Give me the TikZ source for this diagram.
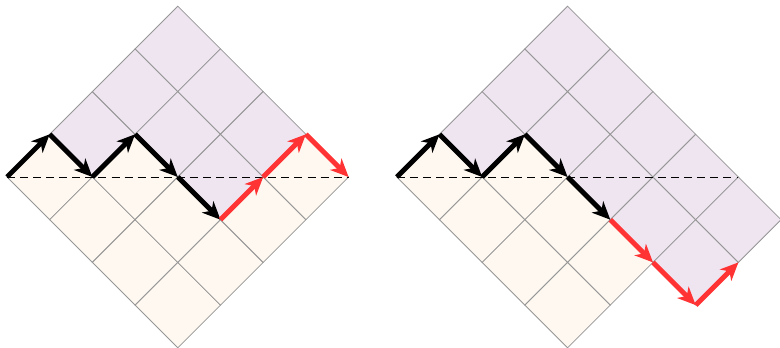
\documentclass[tikz,border=0pt]{standalone}
\usetikzlibrary{arrows.meta}
\definecolor{lilac}{RGB}{239,229,241}
\definecolor{cream}{RGB}{254,248,240}
\definecolor{gridc}{RGB}{150,150,150}
\definecolor{redp}{RGB}{255,51,51}
\begin{document}
\begin{tikzpicture}[x=0.75pt,y=0.75pt,
  cellbox/.style={draw=gridc, line width=0.6pt},
  stepar/.style={line width=3.7pt, -{Stealth[length=13.5pt,width=12pt,inset=4pt]}},
  blk/.style={stepar, draw=black},
  rd/.style={stepar, draw=redp},
  axisline/.style={black, line width=0.6pt, dash pattern=on 6pt off 3.8pt},
  latt/.style={x={(32.025pt,32.025pt)}, y={(32.025pt,-32.025pt)}}]
\useasboundingbox (0,0) rectangle (780,348);

% ---------- left diagram ----------
\begin{scope}[shift={(5.25pt,128.25pt)}, latt]
  \foreach \a/\b in {0/0,0/1,1/1,0/2,1/2,0/3,1/3,2/3,3/3}
    \filldraw[cellbox, fill=cream] (\a,\b) -- (\a+1,\b) -- (\a+1,\b+1) -- (\a,\b+1) -- cycle;
  \foreach \a/\b in {1/0,2/0,3/0,2/1,3/1,2/2,3/2}
    \filldraw[cellbox, fill=lilac] (\a,\b) -- (\a+1,\b) -- (\a+1,\b+1) -- (\a,\b+1) -- cycle;
  \coordinate (L0) at (0,0);
  \coordinate (L1) at (1,0);
  \coordinate (L2) at (1,1);
  \coordinate (L3) at (2,1);
  \coordinate (L4) at (2,2);
  \coordinate (L5) at (2,3);
  \coordinate (L6) at (3,3);
  \coordinate (L7) at (4,3);
  \coordinate (L8) at (4,4);
  \draw[axisline] (L0) -- (L8);
  \draw[blk] (L0) -- (L1);
  \draw[blk] (L1) -- (L2);
  \draw[blk] (L2) -- (L3);
  \draw[blk] (L3) -- (L4);
  \draw[blk] (L4) -- (L5);
  \draw[rd] (L5) -- (L6);
  \draw[rd] (L6) -- (L7);
  \draw[rd] (L7) -- (L8);
\end{scope}

% ---------- right diagram ----------
\begin{scope}[shift={(297.6pt,128.25pt)}, latt]
  \foreach \a/\b in {0/0,0/1,1/1,0/2,1/2,0/3,1/3}
    \filldraw[cellbox, fill=cream] (\a,\b) -- (\a+1,\b) -- (\a+1,\b+1) -- (\a,\b+1) -- cycle;
  \foreach \a/\b in {1/0,2/0,3/0,2/1,3/1,2/2,3/2,2/3,3/3,2/4,3/4}
    \filldraw[cellbox, fill=lilac] (\a,\b) -- (\a+1,\b) -- (\a+1,\b+1) -- (\a,\b+1) -- cycle;
  \coordinate (R0) at (0,0);
  \coordinate (R1) at (1,0);
  \coordinate (R2) at (1,1);
  \coordinate (R3) at (2,1);
  \coordinate (R4) at (2,2);
  \coordinate (R5) at (2,3);
  \coordinate (R6) at (2,4);
  \coordinate (R7) at (2,5);
  \coordinate (R8) at (3,5);
  \coordinate (RD) at (4,4);
  \draw[axisline] (R0) -- (RD);
  \draw[blk] (R0) -- (R1);
  \draw[blk] (R1) -- (R2);
  \draw[blk] (R2) -- (R3);
  \draw[blk] (R3) -- (R4);
  \draw[blk] (R4) -- (R5);
  \draw[rd] (R5) -- (R6);
  \draw[rd] (R6) -- (R7);
  \draw[rd] (R7) -- (R8);
\end{scope}
\end{tikzpicture}
\end{document}
